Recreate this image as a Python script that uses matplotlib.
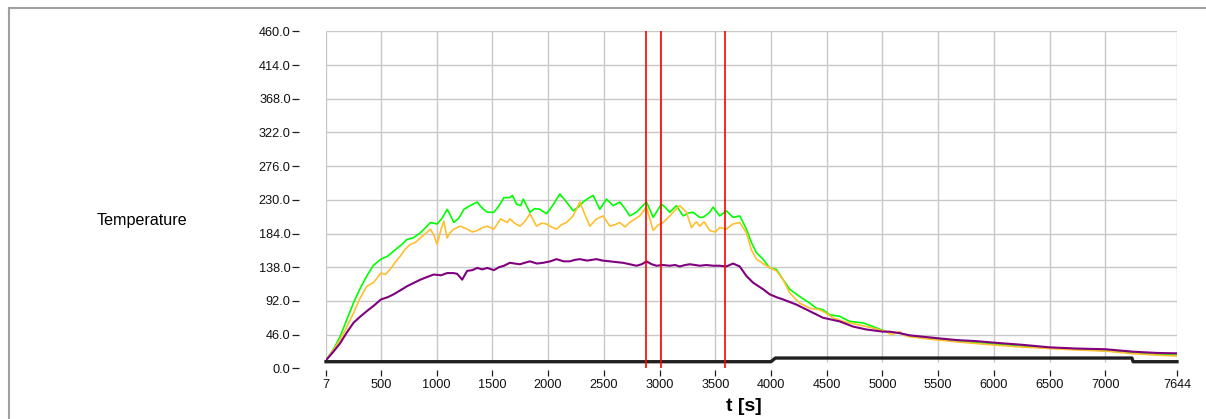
import matplotlib
matplotlib.use("Agg")
import matplotlib.pyplot as plt
from matplotlib.lines import Line2D

plt.rcParams['font.family'] = ['Liberation Sans', 'DejaVu Sans']

# ---------------- data ----------------
green_t = [7, 70, 133, 190, 253, 310, 373, 430, 500, 560, 614, 680, 734, 790, 854, 900, 944, 1004,
           1050, 1094, 1120, 1154, 1200, 1244, 1300, 1364, 1400, 1454, 1514, 1560, 1604, 1657, 1680,
           1717, 1754, 1777, 1837, 1880, 1926, 1986, 2040, 2106, 2165, 2225, 2270, 2315, 2360, 2405,
           2464, 2524, 2584, 2644, 2690, 2733, 2793, 2883, 2943, 3017, 3050, 3092, 3152, 3212, 3260,
           3301, 3361, 3391, 3451, 3481, 3540, 3600, 3660, 3720, 3780, 3824, 3869, 3929, 3989, 4049,
           4109, 4168, 4258, 4348, 4408, 4467, 4527, 4617, 4707, 4826, 4916, 5035, 5155, 5244, 5499,
           5663, 6001, 6261, 6500, 6739, 7003, 7248, 7457, 7644]
green_v = [11, 25, 43, 65, 89, 108, 126, 140, 149, 153, 160, 168, 176, 178, 185, 192, 199, 197,
           205, 217, 210, 199, 205, 217, 222, 227, 220, 213, 213, 222, 233, 233, 236,
           224, 222, 231, 213, 218, 217, 211, 222, 238, 227, 215, 220, 227, 232, 236,
           217, 231, 222, 227, 218, 208, 213, 227, 206, 224, 220, 213, 222, 208, 212,
           213, 206, 206, 213, 220, 208, 215, 206, 208, 190, 172, 158, 149, 137, 135,
           121, 108, 98, 89, 82, 80, 73, 71, 64, 62, 57, 50, 48, 44, 40,
           37, 33, 30, 28, 26, 24, 21, 19, 18]

yellow_t = [7, 70, 133, 190, 253, 310, 373, 433, 500, 540, 583, 630, 673, 720, 763, 810, 854, 900,
            944, 980, 1004, 1040, 1064, 1094, 1120, 1154, 1214, 1274, 1320, 1364, 1410, 1454, 1514,
            1574, 1634, 1657, 1700, 1747, 1790, 1837, 1896, 1940, 1986, 2030, 2076, 2120, 2165, 2225,
            2285, 2330, 2375, 2434, 2494, 2554, 2600, 2644, 2690, 2733, 2780, 2823, 2883, 2943, 2990,
            3032, 3080, 3122, 3182, 3242, 3287, 3330, 3361, 3400, 3451, 3500, 3540, 3600, 3660, 3720,
            3780, 3824, 3869, 3959, 4049, 4109, 4168, 4258, 4348, 4437, 4497, 4557, 4647, 4766, 4916,
            5035, 5080, 5155, 5200, 5244, 5499, 5750, 6001, 6250, 6500, 6750, 7003, 7250, 7457, 7644]
yellow_v = [11, 24, 39, 55, 75, 95, 112, 117, 130, 128, 135, 145, 153, 163, 169, 172, 178, 184,
            190, 180, 169, 190, 201, 178, 185, 190, 194, 190, 186, 188, 192, 194, 190,
            204, 199, 204, 198, 194, 200, 211, 194, 198, 197, 193, 190, 196, 199, 208,
            227, 210, 194, 204, 208, 194, 196, 199, 193, 199, 204, 208, 220, 188, 196,
            199, 206, 213, 222, 213, 192, 200, 194, 200, 188, 186, 192, 190, 197, 199,
            185, 162, 149, 140, 133, 121, 103, 89, 82, 80, 75, 69, 64, 60, 55,
            50, 46, 50, 45, 43, 38.6, 35, 31.8, 29, 27, 25, 23.6, 20, 18, 16.8]

purple_t = [7, 70, 133, 190, 253, 310, 373, 440, 500, 560, 614, 680, 734, 800, 854, 920, 974, 1040,
            1094, 1150, 1184, 1229, 1274, 1320, 1364, 1410, 1454, 1514, 1560, 1604, 1657, 1700, 1747,
            1790, 1837, 1900, 1956, 2020, 2076, 2140, 2195, 2240, 2285, 2350, 2434, 2490, 2554, 2610,
            2674, 2733, 2793, 2840, 2883, 2930, 2973, 3030, 3092, 3140, 3182, 3230, 3272, 3320, 3361,
            3420, 3481, 3540, 3600, 3660, 3720, 3780, 3839, 3929, 3989, 4050, 4109, 4228, 4348, 4467,
            4617, 4736, 4856, 5005, 5065, 5155, 5244, 5499, 5663, 5850, 6001, 6261, 6500, 6739, 7003,
            7248, 7457, 7644]
purple_v = [11, 22, 34, 48, 62, 70, 78, 86, 94, 97, 101, 107, 112, 117, 121, 125, 128, 127,
            130, 130, 129, 121, 133, 134, 137, 135, 137, 134, 138, 140, 144, 143, 142,
            144, 146, 143, 144, 146, 149, 146, 146, 148, 149, 147, 149, 147, 146, 145,
            144, 142, 140, 142, 146, 142, 140, 141, 140, 141, 139, 141, 142, 141, 140,
            141, 140, 140, 139, 143, 139, 126, 117, 108, 101, 97, 94, 87, 78, 69,
            64, 57, 53, 50, 50, 48, 45, 41, 38.6, 37, 35, 32, 28.6, 27, 26,
            22.7, 21, 20.4]

black_t = [7, 4000, 4040, 7240, 7250, 7644]
black_v = [9, 9, 14, 14, 9, 9]

marker_t = [2880, 3010, 3585]

x_ticks = [7, 500, 1000, 1500, 2000, 2500, 3000, 3500, 4000, 4500, 5000, 5500, 6000, 6500, 7000, 7644]
y_ticks = [0.0, 46.0, 92.0, 138.0, 184.0, 230.0, 276.0, 322.0, 368.0, 414.0, 460.0]

# ---------------- figure ----------------
W, H = 1206, 419
fig = plt.figure(figsize=(W / 100, H / 100), dpi=100)
fig.patch.set_facecolor('white')

# outer frame lines
fig.add_artist(Line2D([8.5 / W, 1.0], [1 - 8.5 / H, 1 - 8.5 / H], color='#a0a0a0', lw=1.5,
                      transform=fig.transFigure))
fig.add_artist(Line2D([8.5 / W, 8.5 / W], [0.0, 1 - 8.5 / H], color='#a0a0a0', lw=1.5,
                      transform=fig.transFigure))

left, right = 326 / W, 1177 / W
bottom, top = (H - 368.3) / H, (H - 31.3) / H
ax = fig.add_axes([left, bottom, right - left, top - bottom])
ax.set_xlim(7, 7644)
ax.set_ylim(0, 460)

# grid
ax.vlines(x_ticks, 8, 460, colors='#c8c8c8', lw=1.0, zorder=1)
ax.hlines(y_ticks[1:], 7, 7644, colors='#c8c8c8', lw=1.0, zorder=1)

ax.plot(green_t, green_v, color='#00ff00', lw=1.2, zorder=3)
ax.plot(yellow_t, yellow_v, color='#ffbf30', lw=1.2, zorder=4)
ax.plot(purple_t, purple_v, color='#800080', lw=1.5, zorder=5)
ax.plot(black_t, black_v, color='#202020', lw=2.4, zorder=6, clip_on=False)
for t in marker_t:
    ax.axvline(t, color='#ff0000', lw=1.2, zorder=7)

for s in ax.spines.values():
    s.set_visible(False)
ax.spines['left'].set_position(('outward', 19.4))
ax.spines['bottom'].set_position(('outward', 1.4))

ax.set_xticks(x_ticks)
ax.set_xticklabels([str(v) for v in x_ticks])
ax.set_yticks(y_ticks)
ax.set_yticklabels([f"{v:.1f}" for v in y_ticks])
ax.tick_params(axis='y', length=5, width=0.9, pad=1, labelsize=9.2, color='#202020',
               labelcolor='#101010')
ax.tick_params(axis='x', length=4.3, width=0.9, pad=2.2, labelsize=9.2, color='#202020',
               labelcolor='#101010')

fig.text(97 / W, 1 - 221 / H, 'Temperature', fontsize=11.6, ha='left', va='center')
fig.text(744 / W, 1 - 406 / H, 't [s]', fontsize=14, fontweight='bold', ha='center', va='center')

fig.savefig('out.png', dpi=100, facecolor='white')
